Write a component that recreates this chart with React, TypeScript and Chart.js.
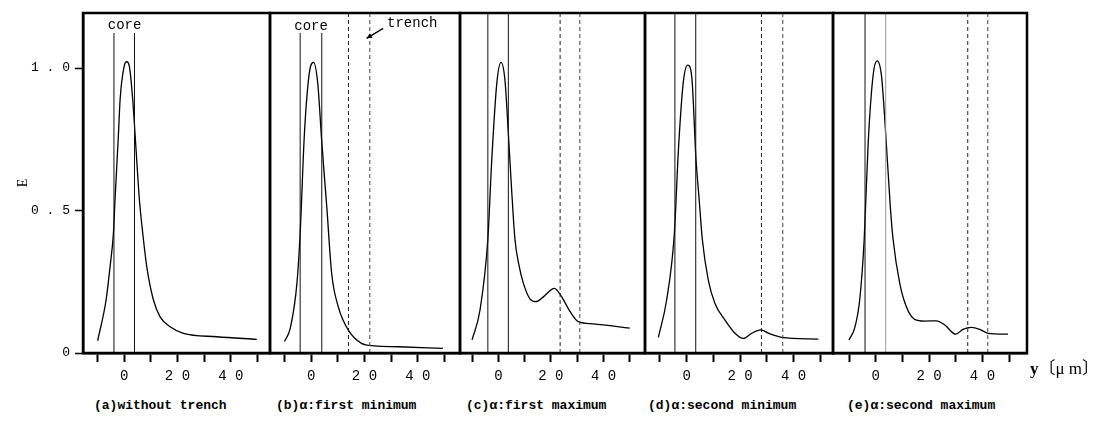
import React, { useEffect, useRef } from "react";
import { Chart, registerables } from "chart.js";
Chart.register(...registerables);

// ---------- data ----------
const Y_MAX = 1.193;
const xTickValues = [-10, 0, 10, 20, 30, 40, 50];
const xTickText: Record<string, string> = { "0": "0", "20": "2 0", "40": "4 0" };
const yTickValues = [0, 0.5, 1.0];
const yTickText = ["0", "0 . 5", "1 . 0"];

const captions = [
  "(a)without trench",
  "(b)α:first minimum",
  "(c)α:first maximum",
  "(d)α:second minimum",
  "(e)α:second maximum",
];

const aX = [-9.9, -6.75, -5.25, -4.0, -3.4, -2.1, -1.5, 0, 1.0, 2.0, 3.25, 4.1, 5.75, 7.0, 8.5, 11, 13.5, 17.25, 22.25, 34.75, 49.75];
const aE = [0.043, 0.186, 0.303, 0.42, 0.537, 0.77, 0.888, 1.005, 1.022, 1.005, 0.888, 0.77, 0.537, 0.42, 0.303, 0.186, 0.127, 0.092, 0.069, 0.057, 0.048];

const bX = [-10, -7.8, -5.3, -4.1, -2.5, -0.7, 0.9, 2.5, 4.0, 5.9, 7.7, 10.2, 13.9, 18.9, 23.9, 32.6, 49.4];
const bE = [0.04, 0.087, 0.245, 0.42, 0.77, 0.98, 1.02, 0.946, 0.74, 0.51, 0.28, 0.162, 0.081, 0.034, 0.025, 0.022, 0.016];

const cX = [-10, -7, -4, -2.5, -0.6, 1.0, 2.5, 3.8, 5.0, 6.3, 7.8, 9.5, 12, 14.3, 17.1, 21.3, 24.1, 27.3, 30.4, 36.1, 50];
const cE = [0.046, 0.15, 0.4, 0.68, 0.946, 1.02, 0.958, 0.77, 0.58, 0.4, 0.31, 0.245, 0.19, 0.18, 0.197, 0.227, 0.197, 0.145, 0.11, 0.102, 0.087];

const dX = [-10.6, -7.5, -4.6, -3.1, -1.3, 0.4, 1.9, 3.5, 4.7, 5.85, 8.1, 10.6, 14.3, 18.1, 21.2, 24.3, 27.7, 31.2, 35.6, 49.3];
const dE = [0.055, 0.186, 0.42, 0.71, 0.947, 1.01, 0.97, 0.68, 0.537, 0.4, 0.256, 0.174, 0.116, 0.069, 0.051, 0.069, 0.081, 0.067, 0.055, 0.049];

const eX = [-10, -7.9, -6, -4.3, -2.8, -0.9, 0.6, 2.2, 3.75, 5.5, 6.5, 9, 11.5, 14.6, 18.4, 22.7, 25.9, 30, 32.7, 35.9, 39, 42.1, 49.6];
const eE = [0.046, 0.087, 0.186, 0.4, 0.74, 0.98, 1.025, 0.97, 0.77, 0.51, 0.4, 0.245, 0.162, 0.118, 0.112, 0.113, 0.098, 0.066, 0.083, 0.09, 0.083, 0.069, 0.066];

const curvesX = [aX, bX, cX, dX, eX];
const curvesE = [aE, bE, cE, dE, eE];

const coreLeft = [-3.8, -4.1, -4.0, -4.4, -4.0];
const coreRight = [3.9, 4.0, 3.8, 3.4, 3.75];
const coreTop = [1.123, 1.123, Y_MAX, Y_MAX, Y_MAX];
const trenchStart = [null, 14, 23.5, 28, 34.5];
const trenchEnd = [null, 22, 31, 36, 42];

// ---------- layout ----------
const PANEL_LEFT = [83, 270, 460, 645, 833];
const PANEL_RIGHT = [270, 460, 645, 833, 1027];
const X_MIN = [-15.4, -15.4, -14.6, -15.6, -16.0];
const X_MAX = [54.7, 55.8, 55.8, 54.8, 56.7];
const CAPTION_LEFT = [94, 276, 466, 648, 847];
const CANVAS_H = 392;
const PLOT_TOP = 13;
const PLOT_BOTTOM = 353;
const PAD = 5;

const MONO = "'Liberation Mono', 'DejaVu Sans Mono', monospace";

type Note = { text: string; x: number; y: number };
const panelNotes: Note[][] = [
  [{ text: "core", x: 0.2, y: 1.15 }],
  [
    { text: "core", x: 0, y: 1.148 },
    { text: "trench", x: 37.9, y: 1.158 },
  ],
  [],
  [],
  [],
];
const panelArrows: (number[] | null)[] = [null, [27, 1.139, 20.8, 1.104], null, null, null];

const framePlugin = {
  id: "frame",
  afterDraw(chart: any) {
    const { ctx, chartArea: a } = chart;
    ctx.save();
    ctx.strokeStyle = "#000";
    ctx.lineWidth = 2.5;
    ctx.strokeRect(a.left, a.top, a.right - a.left, a.bottom - a.top);
    ctx.restore();
  },
};

const notesPlugin = {
  id: "notes",
  afterDatasetsDraw(chart: any, _args: any, opts: any) {
    const { ctx } = chart;
    const xs = chart.scales.x;
    const ys = chart.scales.y;
    ctx.save();
    ctx.fillStyle = "#000";
    ctx.font = `14px ${MONO}`;
    ctx.textAlign = "center";
    ctx.textBaseline = "middle";
    (opts.notes || []).forEach((n: Note) => {
      ctx.fillText(n.text, xs.getPixelForValue(n.x), ys.getPixelForValue(n.y));
    });
    const ar = opts.arrow;
    if (ar) {
      const x1 = xs.getPixelForValue(ar[0]);
      const y1 = ys.getPixelForValue(ar[1]);
      const x2 = xs.getPixelForValue(ar[2]);
      const y2 = ys.getPixelForValue(ar[3]);
      ctx.strokeStyle = "#000";
      ctx.lineWidth = 1.3;
      ctx.beginPath();
      ctx.moveTo(x1, y1);
      ctx.lineTo(x2, y2);
      ctx.stroke();
      const ang = Math.atan2(y2 - y1, x2 - x1);
      const L = 6;
      ctx.beginPath();
      ctx.moveTo(x2, y2);
      ctx.lineTo(x2 - L * Math.cos(ang - 0.45), y2 - L * Math.sin(ang - 0.45));
      ctx.lineTo(x2 - L * Math.cos(ang + 0.45), y2 - L * Math.sin(ang + 0.45));
      ctx.closePath();
      ctx.fill();
    }
    ctx.restore();
  },
};

function vline(x: number, top: number, color: string, dash: number[]) {
  return {
    data: [
      { x, y: 0 },
      { x, y: top },
    ],
    borderColor: color,
    borderWidth: 1,
    borderDash: dash,
    pointRadius: 0,
    fill: false,
    tension: 0,
  };
}

function makeChart(canvas: HTMLCanvasElement, i: number) {
  const first = i === 0;
  const datasets: any[] = [];
  datasets.push(vline(coreLeft[i], coreTop[i], "#111", []));
  datasets.push(vline(coreRight[i], coreTop[i], i === 4 ? "#999" : "#111", []));
  const ts = trenchStart[i];
  const te = trenchEnd[i];
  if (ts !== null && te !== null) {
    datasets.push(vline(ts, Y_MAX, "#222", [4, 3]));
    datasets.push(vline(te, Y_MAX, "#444", [4, 3]));
  }
  datasets.push({
    data: curvesX[i].map((x, k) => ({ x, y: curvesE[i][k] })),
    borderColor: "#000",
    borderWidth: 1.3,
    pointRadius: 0,
    fill: false,
    cubicInterpolationMode: "monotone",
  });

  return new Chart(canvas, {
    type: "line",
    data: { datasets },
    options: {
      animation: false,
      responsive: false,
      devicePixelRatio: 1,
      events: [],
      layout: {
        padding: { left: first ? 0 : PAD, right: PAD, top: PLOT_TOP, bottom: 0 },
      },
      plugins: {
        legend: { display: false },
        tooltip: { enabled: false },
        notes: { notes: panelNotes[i], arrow: panelArrows[i] },
      } as any,
      scales: {
        x: {
          type: "linear",
          min: X_MIN[i],
          max: X_MAX[i],
          afterBuildTicks: (s: any) => {
            s.ticks = xTickValues.map((v) => ({ value: v }));
          },
          afterFit: (s: any) => {
            s.height = CANVAS_H - PLOT_BOTTOM;
          },
          ticks: {
            autoSkip: false,
            maxRotation: 0,
            padding: 6,
            color: "#000",
            font: { family: MONO, size: 14 },
            callback: (v: any) => xTickText[String(v)] ?? "",
          },
          grid: {
            display: true,
            drawOnChartArea: false,
            drawTicks: true,
            tickLength: 9,
            tickWidth: 2,
            tickColor: "#000",
          },
          border: { display: true, color: "#000", width: 2.5 },
        },
        y: {
          type: "linear",
          display: first,
          min: 0,
          max: Y_MAX,
          afterBuildTicks: (s: any) => {
            s.ticks = yTickValues.map((v) => ({ value: v }));
          },
          afterFit: (s: any) => {
            s.width = first ? PANEL_LEFT[0] : 0;
          },
          ticks: {
            padding: 5,
            color: "#000",
            font: { family: MONO, size: 13 },
            callback: (_v: any, idx: number) => yTickText[idx] ?? "",
          },
          grid: {
            display: true,
            drawOnChartArea: false,
            drawTicks: true,
            tickLength: 8,
            tickWidth: 1.5,
            tickColor: "#000",
          },
          border: { display: true, color: "#000", width: 2.5 },
          title: {
            display: true,
            text: "E",
            color: "#000",
            font: { family: "'Liberation Serif', serif", size: 14 },
            padding: { top: 15, bottom: 0 },
          },
        },
      },
    },
    plugins: [framePlugin, notesPlugin],
  } as any);
}

function Panel({ i }: { i: number }) {
  const ref = useRef<HTMLCanvasElement | null>(null);
  const left = i === 0 ? 0 : PANEL_LEFT[i] - PAD;
  const width = PANEL_RIGHT[i] + PAD - left;
  useEffect(() => {
    if (!ref.current) return;
    const ch = makeChart(ref.current, i);
    return () => ch.destroy();
  }, [i]);
  return (
    <canvas
      ref={ref}
      width={width}
      height={CANVAS_H}
      style={{ position: "absolute", left, top: 0, width, height: CANVAS_H }}
    />
  );
}

export default function App() {
  return (
    <div
      style={{
        position: "absolute",
        left: 0,
        top: 0,
        width: 1098,
        height: 437,
        background: "#fff",
        overflow: "hidden",
      }}
    >
      {[0, 1, 2, 3, 4].map((i) => (
        <Panel key={i} i={i} />
      ))}
      <div
        style={{
          position: "absolute",
          left: 1030,
          top: 359,
          fontFamily: "'Liberation Serif', 'Noto Sans CJK JP', serif",
          fontSize: 17,
          color: "#000",
          whiteSpace: "nowrap",
          lineHeight: "20px",
        }}
      >
        <b>y</b>〔μ m〕
      </div>
      {captions.map((c, i) => (
        <div
          key={c}
          style={{
            position: "absolute",
            left: CAPTION_LEFT[i],
            top: 398,
            fontFamily: MONO,
            fontSize: 13,
            fontWeight: "bold",
            color: "#000",
            whiteSpace: "nowrap",
            lineHeight: "16px",
          }}
        >
          {c}
        </div>
      ))}
    </div>
  );
}
